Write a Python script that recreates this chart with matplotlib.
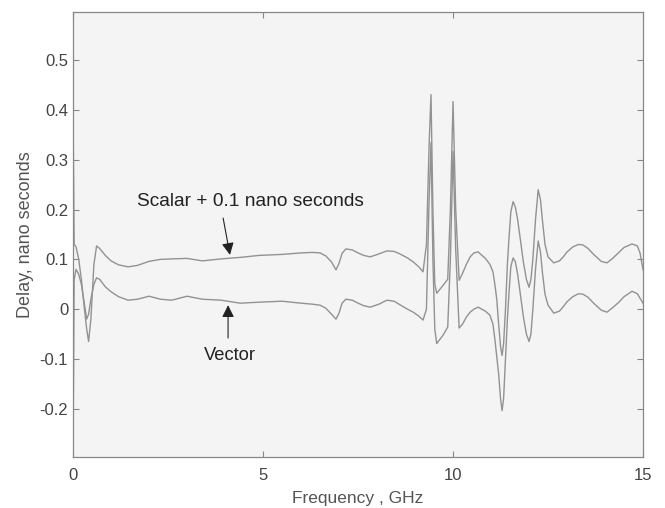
import matplotlib
matplotlib.use("Agg")
import matplotlib.pyplot as plt

plt.rcParams['font.family'] = ['Liberation Sans', 'DejaVu Sans']

# frequency points (GHz)
freq = [0.0, 0.03, 0.08, 0.15, 0.22, 0.30, 0.36, 0.41, 0.47, 0.55,
        0.62, 0.70, 0.85, 1.0, 1.2, 1.45, 1.7, 2.0, 2.3, 2.6,
        3.0, 3.4, 3.9, 4.4, 4.9, 5.5, 6.0, 6.3, 6.5, 6.65, 6.8, 6.92,
        7.0, 7.08, 7.18, 7.35, 7.5, 7.65, 7.82, 8.05, 8.26, 8.45, 8.6, 8.8,
        8.95, 9.1, 9.21, 9.30,
        9.37, 9.42, 9.47, 9.52, 9.57, 9.74, 9.86, 9.93, 10.0, 10.07,
        10.16, 10.25, 10.35, 10.45, 10.55, 10.66, 10.85, 10.97, 11.05, 11.1,
        11.15, 11.2, 11.25, 11.29, 11.33, 11.38,
        11.43, 11.47, 11.52, 11.58, 11.64, 11.7, 11.78, 11.85, 11.93, 12.0,
        12.05, 12.1, 12.17, 12.24, 12.3, 12.35, 12.42, 12.5, 12.65,
        12.8, 12.9, 13.0, 13.15, 13.3, 13.42, 13.55, 13.7, 13.9, 14.05,
        14.2, 14.35, 14.5, 14.71, 14.85, 14.92, 15.0]

# scalar delay + 0.1 ns offset
scalar = [0.40, 0.13, 0.125, 0.10, 0.06, 0.0, -0.04, -0.065, -0.02, 0.09,
          0.127, 0.122, 0.108, 0.097, 0.089, 0.085, 0.088, 0.096, 0.10, 0.101,
          0.102, 0.097, 0.101, 0.104, 0.108, 0.110, 0.113, 0.114, 0.113, 0.107, 0.095, 0.079,
          0.092, 0.112, 0.121, 0.119, 0.113, 0.108, 0.105, 0.111, 0.117, 0.116, 0.111, 0.103,
          0.095, 0.085, 0.075, 0.13,
          0.33, 0.431, 0.20, 0.05, 0.032, 0.048, 0.06, 0.20, 0.417, 0.20,
          0.058, 0.072, 0.09, 0.105, 0.113, 0.115, 0.102, 0.09, 0.075, 0.05,
          0.02, -0.03, -0.075, -0.093, -0.07, 0.0,
          0.09, 0.14, 0.195, 0.216, 0.205, 0.18, 0.135, 0.095, 0.06, 0.044,
          0.06, 0.10, 0.18, 0.24, 0.22, 0.18, 0.13, 0.105, 0.093,
          0.097, 0.105, 0.115, 0.125, 0.13, 0.129, 0.122, 0.11, 0.096, 0.093,
          0.102, 0.113, 0.124, 0.131, 0.127, 0.113, 0.079]

# vector delay
vector = [-0.30, 0.06, 0.08, 0.07, 0.05, 0.01, -0.02, -0.01, 0.02, 0.05,
          0.063, 0.06, 0.045, 0.035, 0.025, 0.018, 0.02, 0.026, 0.02, 0.018,
          0.026, 0.02, 0.018, 0.012, 0.014, 0.016, 0.012, 0.01, 0.008, 0.002, -0.01, -0.02,
          -0.008, 0.012, 0.02, 0.018, 0.012, 0.007, 0.004, 0.01, 0.018, 0.016, 0.009, 0.0,
          -0.006, -0.014, -0.022, 0.0,
          0.22, 0.335, 0.10, -0.04, -0.069, -0.052, -0.036, 0.10, 0.317, 0.12,
          -0.038, -0.03, -0.016, -0.006, 0.0, 0.004, -0.004, -0.012, -0.03, -0.06,
          -0.095, -0.13, -0.18, -0.204, -0.18, -0.10,
          -0.02, 0.03, 0.085, 0.103, 0.095, 0.07, 0.025, -0.015, -0.05, -0.065,
          -0.05, 0.0, 0.08, 0.137, 0.115, 0.075, 0.03, 0.008, -0.008,
          -0.004, 0.005, 0.015, 0.025, 0.031, 0.030, 0.024, 0.012, -0.002, -0.006,
          0.003, 0.013, 0.025, 0.036, 0.031, 0.022, 0.012]

yticks = [-0.2, -0.1, 0, 0.1, 0.2, 0.3, 0.4, 0.5]
yticklabels = ['-0.2', '-0.1', '0', '0.1', '0.2', '0.3', '0.4', '0.5']
xticks = [0, 5, 10, 15]

fig = plt.figure(figsize=(6.65, 5.08), dpi=100)
ax = fig.add_axes([0.1098, 0.1004, 0.8572, 0.876])
ax.set_facecolor('#f4f4f4')

ax.plot(freq, scalar, color='#929292', lw=1.0)
ax.plot(freq, vector, color='#929292', lw=1.0)

ax.set_xlim(0, 15)
ax.set_ylim(-0.297, 0.597)
ax.set_xticks(xticks)
ax.set_xticklabels([str(t) for t in xticks])
ax.set_yticks(yticks)
ax.set_yticklabels(yticklabels)
ax.tick_params(direction='in', length=4, width=0.8, colors='#888888',
               labelcolor='#444444', labelsize=12, top=True, right=True)
ax.tick_params(axis='x', pad=8)
for s in ax.spines.values():
    s.set_color('#888888')
    s.set_linewidth(0.9)

ax.set_xlabel('Frequency , GHz', fontsize=12.5, color='#555555', labelpad=6)
ax.set_ylabel('Delay, nano seconds', fontsize=13, color='#555555', labelpad=4)

ax.text(1.68, 0.216, 'Scalar + 0.1 nano seconds', fontsize=13.8,
        color='#222222', va='center', ha='left')
ax.annotate('', xy=(4.13, 0.109), xytext=(3.95, 0.183),
            arrowprops=dict(arrowstyle='-|>', color='#222222', lw=0.8,
                            mutation_scale=18, shrinkA=0, shrinkB=0))
ax.annotate('', xy=(4.08, 0.008), xytext=(4.08, -0.058),
            arrowprops=dict(arrowstyle='-|>', color='#222222', lw=0.8,
                            mutation_scale=18, shrinkA=0, shrinkB=0))
ax.text(4.13, -0.093, 'Vector', fontsize=13.2, color='#222222',
        va='center', ha='center')

fig.savefig('out.png', dpi=100)
